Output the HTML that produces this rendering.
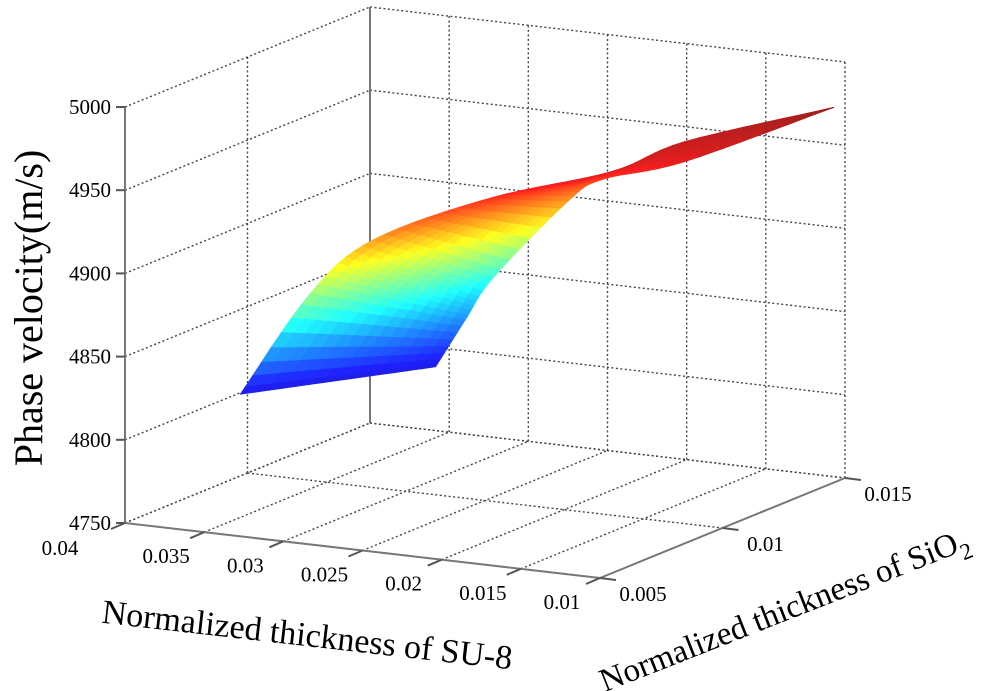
<!DOCTYPE html>
<html><head><meta charset="utf-8">
<style>
html,body{margin:0;padding:0;background:#fff;}
svg{display:block;}
text{font-family:"Liberation Serif",serif;fill:#000;}
</style></head>
<body>
<svg id="chart" width="1000" height="691" viewBox="0 0 1000 691" xmlns="http://www.w3.org/2000/svg">
<g id="grid"></g>
<g id="axes"></g>
<g id="surface"></g>
<g id="labels"></g>
<text x="0" y="0" font-size="40" text-anchor="middle" transform="translate(42,308) rotate(-90)">Phase velocity(m/s)</text>
<text x="0" y="0" font-size="34" text-anchor="middle" transform="translate(306,646) rotate(6.5)">Normalized thickness of SU-8</text>
<text x="0" y="0" font-size="33" text-anchor="middle" transform="translate(788,620) rotate(-21.5)">Normalized thickness of SiO<tspan font-size="23" dy="9">2</tspan></text>
</svg>
<script>
// ---- data ----
const su8Ticks = [0.04, 0.035, 0.03, 0.025, 0.02, 0.015, 0.01];
const su8TickLabels = ["0.04","0.035","0.03","0.025","0.02","0.015","0.01"];
const sio2Ticks = [0.005, 0.01, 0.015];
const sio2TickLabels = ["0.005","0.01","0.015"];
const zTicks = [4750, 4800, 4850, 4900, 4950, 5000];
const zTickLabels = ["4750","4800","4850","4900","4950","5000"];
// surface edges (SU-8, SiO2, phase velocity)
const leftEdgeSu8  = [0.0338, 0.0285, 0.0248, 0.0201, 0.0153, 0.0147, 0.0101];
const leftEdgeSio2 = [0.0057, 0.00515, 0.0053, 0.0070, 0.0089, 0.0115, 0.0146];
const leftEdgeZ    = [4830, 4900, 4935, 4955, 4965, 4968, 4975];
const rightEdgeSu8  = [0.0275, 0.0267, 0.0254, 0.0199, 0.0174, 0.0135, 0.0101];
const rightEdgeSio2 = [0.0096, 0.0103, 0.0106, 0.0101, 0.0099, 0.0107, 0.0146];
const rightEdgeZ    = [4830, 4855, 4880, 4935, 4952, 4962, 4975];

// ---- axis functions (projection) ----
const A = {x:125, y:523};
const FA = {x:475, y:55};
const SA = {x:245, y:-100};
const ZS = 416/250;
function proj(su8, sio2, z){
  const t=(0.04-su8)/0.03, s=(sio2-0.005)/0.01;
  return {x:A.x+FA.x*t+SA.x*s, y:A.y+FA.y*t+SA.y*s-(z-4750)*ZS};
}
const NS="http://www.w3.org/2000/svg";
function line(g,p,q,dotted,name,color){
  const l=document.createElementNS(NS,'line');
  l.setAttribute('x1',p.x);l.setAttribute('y1',p.y);l.setAttribute('x2',q.x);l.setAttribute('y2',q.y);
  l.setAttribute('stroke',color||(dotted?'#444':'#777'));
  l.setAttribute('stroke-width',dotted?1.4:2);
  if(dotted) l.setAttribute('stroke-dasharray','2 2.5');
  
  
  g.appendChild(l);
}
function txt(g,x,y,s,anchor,name,size){
  const t=document.createElementNS(NS,'text');
  t.setAttribute('x',x);t.setAttribute('y',y);t.setAttribute('font-size',size||21);
  t.setAttribute('text-anchor',anchor);t.textContent=s;
  
  
  g.appendChild(t);
}
const grid=document.getElementById('grid'), axes=document.getElementById('axes'),
      surf=document.getElementById('surface'), labels=document.getElementById('labels');
const su0=0.04, su1=0.01, si0=0.005, si1=0.015, z0=4750, z1=5000;

su8Ticks.forEach(v=>{ line(grid,proj(v,si0,z0),proj(v,si1,z0),true,'floor-gridline-su8'); });
sio2Ticks.forEach(v=>{ line(grid,proj(su0,v,z0),proj(su1,v,z0),true,'floor-gridline-sio2'); });
su8Ticks.forEach(v=>{ line(grid,proj(v,si1,z0),proj(v,si1,z1),true,'back-wall-vertical-gridline'); });
zTicks.forEach(v=>{ line(grid,proj(su0,si1,v),proj(su1,si1,v),true,'back-wall-horizontal-gridline'); });
sio2Ticks.forEach(v=>{ line(grid,proj(su0,v,z0),proj(su0,v,z1),true,'left-wall-vertical-gridline'); });
zTicks.forEach(v=>{ line(grid,proj(su0,si0,v),proj(su0,si1,v),true,'left-wall-horizontal-gridline'); });
line(axes,proj(su0,si0,z0),proj(su0,si0,z1),false,'z-axis-line');
line(axes,proj(su0,si1,z0),proj(su0,si1,z1),false,'back-corner-line');
line(axes,proj(su0,si0,z0),proj(su1,si0,z0),false,'su8-axis-line');
line(axes,proj(su1,si0,z0),proj(su1,si1,z0),false,'sio2-axis-line');
zTicks.forEach((v,i)=>{
  const p=proj(su0,si0,v);
  line(axes,{x:p.x-9,y:p.y},p,false,'z-tick','#555');
  txt(labels,p.x-14,p.y+7,zTickLabels[i],'end','z-tick-label');
});
su8Ticks.forEach((v,i)=>{
  const p=proj(v,si0,z0);
  line(axes,p,{x:p.x-14,y:p.y+6},false,'su8-tick','#555');
  if(i===0) txt(labels,p.x-65,p.y+32,su8TickLabels[i],'middle','su8-tick-label');
  else txt(labels,p.x-38,p.y+31,su8TickLabels[i],'middle','su8-tick-label');
});
sio2Ticks.forEach((v,i)=>{
  const p=proj(su1,v,z0);
  line(axes,p,{x:p.x+16,y:p.y+2},false,'sio2-tick','#555');
  txt(labels,p.x+43,p.y+23,sio2TickLabels[i],'middle','sio2-tick-label');
});

function jet(f){
  f=Math.max(0,Math.min(1,f));
  const r=Math.max(0,Math.min(1,1.5-Math.abs(4*f-3)));
  const g=Math.max(0,Math.min(1,1.5-Math.abs(4*f-2)));
  const b=Math.max(0,Math.min(1,1.5-Math.abs(4*f-1)));
  const k=0.12;
  return `rgb(${Math.round((r+(1-r)*k)*255)},${Math.round((g+(1-g)*k)*255)},${Math.round((b+(1-b)*k)*255)})`;
}
const zmin=Math.min(...leftEdgeZ,...rightEdgeZ)-15, zmax=Math.max(...leftEdgeZ,...rightEdgeZ)+3;
const SUB=8, COLS=14;
function edgePoint(arr,k){
  const n=arr.length, i=Math.min(Math.floor(k),n-2), f=k-i;
  const p0=arr[Math.max(i-1,0)], p1=arr[i], p2=arr[i+1], p3=arr[Math.min(i+2,n-1)];
  const f2=f*f, f3=f2*f;
  return 0.5*((2*p1)+(-p0+p2)*f+(2*p0-5*p1+4*p2-p3)*f2+(-p0+3*p1-3*p2+p3)*f3);
}
function node(k,c){
  const L=[edgePoint(leftEdgeSu8,k),edgePoint(leftEdgeSio2,k),edgePoint(leftEdgeZ,k)];
  const R=[edgePoint(rightEdgeSu8,k),edgePoint(rightEdgeSio2,k),edgePoint(rightEdgeZ,k)];
  const f=c/COLS;
  return [L[0]+(R[0]-L[0])*f, L[1]+(R[1]-L[1])*f, L[2]+(R[2]-L[2])*f];
}
const nRows=(leftEdgeZ.length-1)*SUB;
for(let r=0;r<nRows;r++){
  for(let c=0;c<COLS;c++){
    const k0=r/SUB, k1=(r+1)/SUB;
    const pts=[node(k0,c),node(k0,c+1),node(k1,c+1),node(k1,c)];
    const zavg=pts.reduce((a,p)=>a+p[2],0)/4;
    const sp=pts.map(p=>proj(p[0],p[1],p[2]));
    const poly=document.createElementNS(NS,'polygon');
    poly.setAttribute('points',sp.map(p=>p.x.toFixed(1)+','+p.y.toFixed(1)).join(' '));
    const col=jet((zavg-zmin)/(zmax-zmin));
    poly.setAttribute('fill',col);poly.setAttribute('stroke',col);poly.setAttribute('stroke-width','0.8');
    
    
    surf.appendChild(poly);
  }
}
</script>
</body></html>
